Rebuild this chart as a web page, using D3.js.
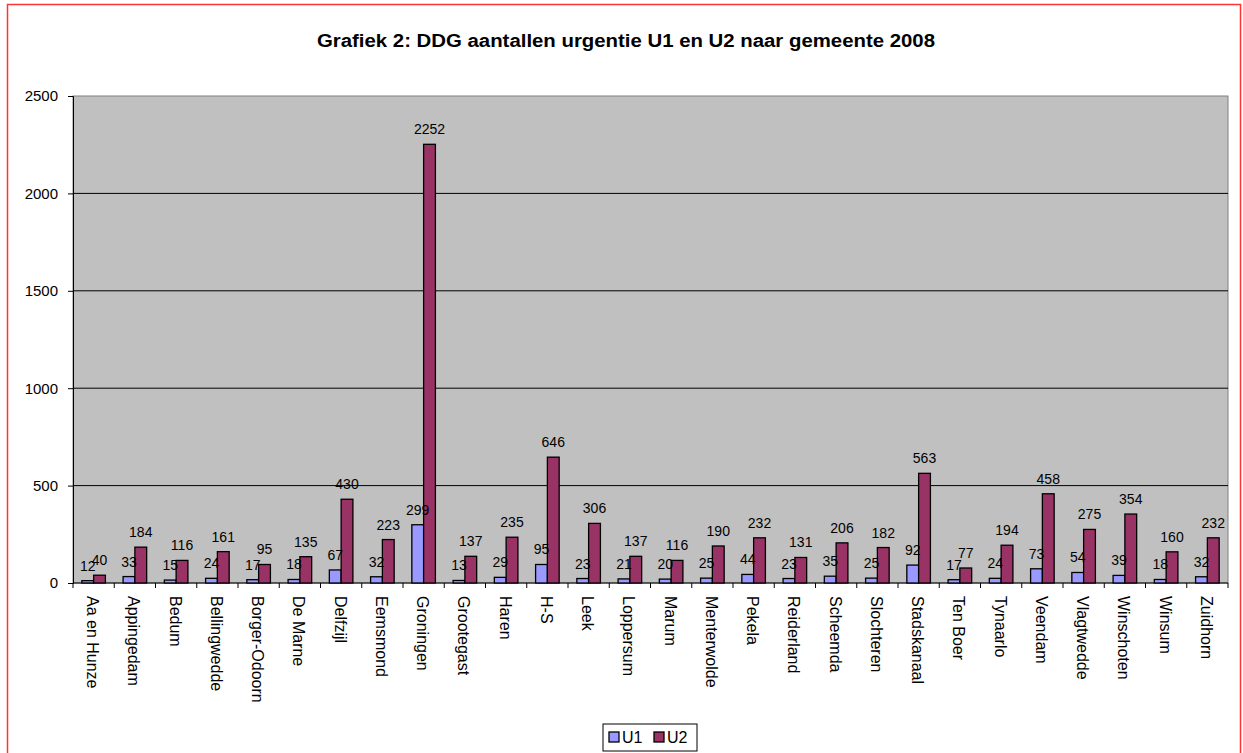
<!DOCTYPE html>
<html>
<head>
<meta charset="utf-8">
<script src="https://cdn.jsdelivr.net/npm/d3@7"></script>
<style>
  body { margin: 0; background: #fff; }
  text { font-family: "Liberation Sans", Arial, sans-serif; fill: #000; }
</style>
</head>
<body>
<svg id="chart" width="1243" height="753"></svg>
<script>
const categories = ["Aa en Hunze", "Appingedam", "Bedum", "Bellingwedde", "Borger-Odoorn",
    "De Marne", "Delfzijl", "Eemsmond", "Groningen", "Grootegast", "Haren", "H-S", "Leek",
    "Loppersum", "Marum", "Menterwolde", "Pekela", "Reiderland", "Scheemda", "Slochteren",
    "Stadskanaal", "Ten Boer", "Tynaarlo", "Veendam", "Vlagtwedde", "Winschoten", "Winsum", "Zuidhorn"];
const u1 = [12, 33, 15, 24, 17, 18, 67, 32, 299, 13, 29, 95, 23, 21, 20, 25, 44, 23, 35, 25, 92, 17, 24, 73, 54, 39, 18, 32];
const u2 = [40, 184, 116, 161, 95, 135, 430, 223, 2252, 137, 235, 646, 306, 137, 116, 190, 232, 131, 206, 182, 563, 77, 194, 458, 275, 354, 160, 232];
const seriesNames = ["U1", "U2"];
const seriesColors = ["#9999FF", "#993366"];
const yTicks = [0, 500, 1000, 1500, 2000, 2500];

const svg = d3.select("#chart");
const plot = { left: 73, top: 96, right: 1228, bottom: 583 };

// outer chart border
svg.append("rect")
    .attr("x", 7.5).attr("y", 4.5)
    .attr("width", 1233).attr("height", 760)
    .attr("fill", "#fff").attr("stroke", "#ff3333").attr("stroke-width", 1.5);

svg.append("text")
    .attr("x", 626).attr("y", 47)
    .attr("text-anchor", "middle")
    .attr("textLength", 618).attr("lengthAdjust", "spacingAndGlyphs")
    .style("font-weight", "bold").style("font-size", "18px")
    .text("Grafiek 2: DDG aantallen urgentie U1 en U2 naar gemeente 2008");

const x = d3.scaleBand().domain(categories).range([plot.left, plot.right]);
const xInner = d3.scaleBand().domain(seriesNames)
    .range([0, x.bandwidth()]).paddingOuter(0.75).paddingInner(0);
const y = d3.scaleLinear().domain([0, 2500]).range([plot.bottom, plot.top]);

svg.append("rect")
    .attr("x", plot.left).attr("y", plot.top)
    .attr("width", plot.right - plot.left).attr("height", plot.bottom - plot.top)
    .attr("fill", "#c0c0c0").attr("stroke", "#808080");

svg.append("g").selectAll("line")
    .data(yTicks.filter(d => d > 0 && d < 2500))
    .enter().append("line")
    .attr("x1", plot.left).attr("x2", plot.right)
    .attr("y1", d => y(d)).attr("y2", d => y(d))
    .attr("stroke", "#000");

// y axis
const yAxis = svg.append("g")
    .attr("transform", `translate(${plot.left},0)`)
    .call(d3.axisLeft(y).tickValues(yTicks).tickSize(5).tickPadding(10).tickFormat(d3.format("d")));
yAxis.selectAll("text").style("font-size", "15px").attr("fill", "#000");
yAxis.selectAll("line, path").attr("stroke", "#000");

// x axis with boundary ticks
const xAxis = svg.append("g").attr("transform", `translate(0,${plot.bottom})`);
xAxis.append("line").attr("x1", plot.left).attr("x2", plot.right).attr("stroke", "#000");
xAxis.selectAll("line.tick")
    .data(d3.range(categories.length + 1))
    .enter().append("line")
    .attr("class", "tick")
    .attr("x1", i => plot.left + i * x.step()).attr("x2", i => plot.left + i * x.step())
    .attr("y1", 0).attr("y2", 5)
    .attr("stroke", "#000");
xAxis.selectAll("text")
    .data(categories)
    .enter().append("text")
    .attr("transform", d => `translate(${x(d) + x.bandwidth() / 2 - 1},13) rotate(90)`)
    .attr("dominant-baseline", "central")
    .style("font-size", "16px")
    .text(d => d);

// bars
const rows = categories.map((c, i) => ({ cat: c, values: [u1[i], u2[i]] }));
const groups = svg.append("g").selectAll("g")
    .data(rows)
    .enter().append("g")
    .attr("transform", d => `translate(${x(d.cat)},0)`);

groups.selectAll("rect")
    .data(d => d.values.map((v, j) => ({ key: seriesNames[j], v, j })))
    .enter().append("rect")
    .attr("x", d => xInner(d.key))
    .attr("y", d => y(d.v))
    .attr("width", xInner.bandwidth())
    .attr("height", d => plot.bottom - y(d.v))
    .attr("fill", d => seriesColors[d.j])
    .attr("stroke", "#000").attr("stroke-width", 1.3);

groups.selectAll("text")
    .data(d => d.values.map((v, j) => ({ key: seriesNames[j], v })))
    .enter().append("text")
    .attr("x", d => xInner(d.key) + xInner.bandwidth() / 2)
    .attr("y", d => y(d.v) - 10)
    .attr("text-anchor", "middle")
    .style("font-size", "14px")
    .text(d => d.v);

// legend
const legend = svg.append("g").attr("transform", "translate(603,724)");
legend.append("rect")
    .attr("width", 94).attr("height", 27)
    .attr("fill", "#fff").attr("stroke", "#000");
const items = legend.selectAll("g.item")
    .data(seriesNames)
    .enter().append("g")
    .attr("class", "item")
    .attr("transform", (d, i) => `translate(${6 + i * 45},8)`);
items.append("rect")
    .attr("width", 10).attr("height", 10)
    .attr("fill", (d, i) => seriesColors[i])
    .attr("stroke", "#000").attr("stroke-width", 1.3);
items.append("text")
    .attr("x", 13).attr("y", 5)
    .attr("dominant-baseline", "central")
    .style("font-size", "16px")
    .text(d => d);
</script>
</body>
</html>
